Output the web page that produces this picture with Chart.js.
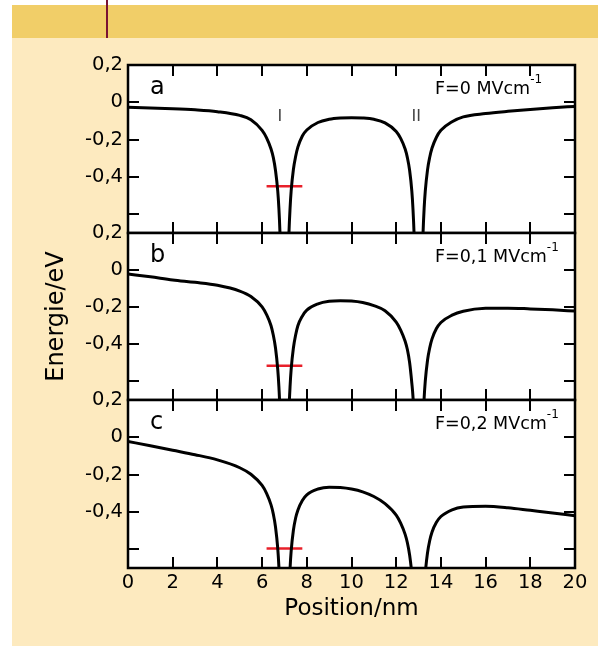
<!DOCTYPE html>
<html>
<head>
<meta charset="utf-8">
<script src="https://cdn.jsdelivr.net/npm/chart.js@4.4.1/dist/chart.umd.min.js"></script>
<style>
html,body{margin:0;padding:0;background:#fff;width:598px;height:646px;overflow:hidden;position:relative}
#beige{position:absolute;left:12px;top:38px;right:0;bottom:0;background:#FDEABF}
#band{position:absolute;left:12px;top:5px;right:0;height:33px;background:#F1CE68}
#rule{position:absolute;left:106px;top:0;width:2px;height:38px;background:#7A1232}
canvas{position:absolute;left:0}
</style>
</head>
<body>
<div id="beige"></div><div id="band"></div><div id="rule"></div>
<canvas id="pa" width="598" height="208" style="top:45px;width:598px;height:208px"></canvas>
<canvas id="pb" width="598" height="207" style="top:213px;width:598px;height:207px"></canvas>
<canvas id="pc" width="598" height="266" style="top:380px;width:598px;height:266px"></canvas>
<script>
// ---- data ----
const positions = [0,1,2,3,4,5,5.5,6,6.2,6.4,6.5,6.6,6.7,6.75,6.8,6.85,7,7.15,7.2,7.25,7.3,7.4,7.5,7.6,7.8,8,8.5,9,9.5,10,10.5,11,11.5,12,12.2,12.4,12.5,12.6,12.7,12.75,12.8,12.85,13,13.15,13.2,13.25,13.3,13.4,13.5,13.6,13.8,14,14.5,15,16,17,18,19,20];
const energyA = [-0.027,-0.030,-0.034,-0.040,-0.050,-0.070,-0.093,-0.150,-0.190,-0.250,-0.295,-0.365,-0.475,-0.565,-0.70,-0.93,null,-0.93,-0.705,-0.57,-0.475,-0.36,-0.29,-0.24,-0.18,-0.148,-0.108,-0.091,-0.084,-0.082,-0.084,-0.091,-0.110,-0.156,-0.193,-0.250,-0.296,-0.364,-0.477,-0.57,-0.706,-0.933,null,-0.933,-0.705,-0.568,-0.477,-0.363,-0.294,-0.246,-0.187,-0.15,-0.104,-0.078,-0.06,-0.048,-0.038,-0.029,-0.022];
const energyB = [-0.021,-0.036,-0.053,-0.066,-0.082,-0.113,-0.142,-0.198,-0.24,-0.30,-0.35,-0.42,-0.535,-0.625,-0.76,-0.99,null,-0.99,-0.765,-0.63,-0.535,-0.42,-0.35,-0.30,-0.248,-0.216,-0.182,-0.168,-0.165,-0.167,-0.175,-0.191,-0.219,-0.28,-0.323,-0.383,-0.428,-0.498,-0.61,-0.68,-0.80,-1.05,null,-1.05,-0.827,-0.69,-0.60,-0.487,-0.419,-0.372,-0.315,-0.282,-0.243,-0.222,-0.206,-0.205,-0.209,-0.214,-0.221];
const energyC = [-0.022,-0.045,-0.069,-0.093,-0.121,-0.163,-0.198,-0.258,-0.30,-0.362,-0.41,-0.48,-0.595,-0.69,-0.83,-1.06,null,-1.07,-0.84,-0.705,-0.61,-0.498,-0.432,-0.39,-0.338,-0.308,-0.277,-0.267,-0.269,-0.277,-0.292,-0.317,-0.355,-0.417,-0.46,-0.52,-0.565,-0.63,-0.735,-0.83,-0.97,-1.2,null,-1.2,-0.96,-0.82,-0.73,-0.62,-0.553,-0.508,-0.455,-0.424,-0.388,-0.373,-0.369,-0.377,-0.391,-0.405,-0.42];
const groundLevels = [-0.45,-0.515,-0.595];
const groundSpan = [6.2,7.8];
const xTickValues = [0,2,4,6,8,10,12,14,16,18,20];
const xTickLabels = ['0','2','4','6','8','10','12','14','16','18','20'];
const yTickValues = [0.2,0,-0.2,-0.4,-0.6];
const yTickLabels = ['0,2','0','-0,2','-0,4',''];
const panelLetters = ['a','b','c'];
const fieldLabels = ['F=0 MVcm','F=0,1 MVcm','F=0,2 MVcm'];
const fieldExponent = '-1';
const wellLabels = ['I','II'];
const wellLabelX = [6.8,12.9];
const wellLabelY = -0.1;

const FONT = '"DejaVu Sans", sans-serif';
const series = [energyA, energyB, energyC];

function labelFor(arrV, arrL, v){
  for (let i=0;i<arrV.length;i++) if (Math.abs(arrV[i]-v)<1e-9) return arrL[i];
  return '';
}

function makePanel(idx, id){
  const isBottom = idx === 2;
  const framePlugin = {
    id: 'frame'+idx,
    beforeDraw(chart){
      const a = chart.chartArea, ctx = chart.ctx;
      ctx.save(); ctx.fillStyle = '#fff';
      ctx.fillRect(a.left, a.top, a.right-a.left, a.bottom-a.top);
      ctx.restore();
    },
    afterDatasetsDraw(chart){
      const a = chart.chartArea, ctx = chart.ctx, xs = chart.scales.x, ys = chart.scales.y;
      const L = 11;
      ctx.save();
      ctx.strokeStyle = '#000'; ctx.lineWidth = 2;
      ctx.beginPath();
      xTickValues.forEach(v => {
        const px = Math.round(xs.getPixelForValue(v));
        ctx.moveTo(px, a.top); ctx.lineTo(px, a.top+L);
        ctx.moveTo(px, a.bottom); ctx.lineTo(px, a.bottom-L);
      });
      yTickValues.forEach(v => {
        const py = Math.round(ys.getPixelForValue(v));
        ctx.moveTo(a.left, py); ctx.lineTo(a.left+L, py);
        ctx.moveTo(a.right, py); ctx.lineTo(a.right-L, py);
      });
      ctx.stroke();
      ctx.lineWidth = 2.5;
      ctx.strokeRect(a.left, a.top, a.right-a.left, a.bottom-a.top);
      ctx.restore();
    },
    afterDraw(chart){
      const a = chart.chartArea, ctx = chart.ctx, xs = chart.scales.x, ys = chart.scales.y;
      ctx.save();
      ctx.fillStyle = '#000';
      ctx.textBaseline = 'alphabetic';
      ctx.textAlign = 'left';
      ctx.font = '24px ' + FONT;
      ctx.fillText(panelLetters[idx], a.left + 22, a.top + 29);
      ctx.font = '17.5px ' + FONT;
      const fx = a.left + 307, fy = a.top + 29;
      ctx.fillText(fieldLabels[idx], fx, fy);
      const w = ctx.measureText(fieldLabels[idx]).width;
      ctx.font = '12px ' + FONT;
      ctx.fillText(fieldExponent, fx + w, fy - 11);
      if (idx === 0) {
        ctx.fillStyle = '#444';
        ctx.textAlign = 'center';
        ctx.font = '16px ' + FONT;
        wellLabels.forEach((t,i) => {
          ctx.fillText(t, xs.getPixelForValue(wellLabelX[i]), ys.getPixelForValue(wellLabelY));
        });
      }
      ctx.restore();
    }
  };

  return new Chart(document.getElementById(id), {
    type: 'line',
    data: {
      datasets: [
        {
          data: positions.map((x,i) => ({x, y: series[idx][i]})),
          borderColor: '#000', borderWidth: 3, pointRadius: 0,
          cubicInterpolationMode: 'monotone', spanGaps: false, clip: 0, fill: false
        },
        {
          data: groundSpan.map(x => ({x, y: groundLevels[idx]})),
          borderColor: '#E8202A', borderWidth: 2.5, pointRadius: 0, clip: 0, fill: false
        }
      ]
    },
    options: {
      responsive: false, animation: false,
      layout: { padding: { left: 0, right: 23, top: 20, bottom: isBottom ? 0 : 20 } },
      plugins: { legend: {display:false}, tooltip: {enabled:false} },
      scales: {
        x: {
          type: 'linear', min: 0, max: 20, display: isBottom,
          afterBuildTicks: s => { s.ticks = xTickValues.map(v => ({value: v})); },
          afterFit: s => { if (isBottom) s.height = 78; },
          grid: { display: false, drawTicks: false },
          border: { display: false },
          ticks: {
            autoSkip: false, maxRotation: 0, padding: 3, color: '#000',
            font: { family: FONT, size: 19.5 },
            callback: v => labelFor(xTickValues, xTickLabels, v)
          },
          title: {
            display: true, text: 'Position/nm', color: '#000',
            font: { family: FONT, size: 23 }, padding: { top: 0, bottom: 23 }
          }
        },
        y: {
          type: 'linear', min: -0.7, max: 0.2,
          afterBuildTicks: s => { s.ticks = yTickValues.map(v => ({value: v})); },
          afterFit: s => { s.width = 128; },
          grid: { display: false, drawTicks: false },
          border: { display: false },
          ticks: {
            autoSkip: false, padding: 5, color: '#000',
            font: { family: FONT, size: 19.5 },
            callback: v => labelFor(yTickValues, yTickLabels, v)
          },
          title: {
            display: idx === 1, text: 'Energie/eV', color: '#000',
            font: { family: FONT, size: 24 }, padding: { top: 42, bottom: 0 }
          }
        }
      }
    },
    plugins: [framePlugin]
  });
}

makePanel(0, 'pa');
makePanel(1, 'pb');
makePanel(2, 'pc');
</script>
</body>
</html>
